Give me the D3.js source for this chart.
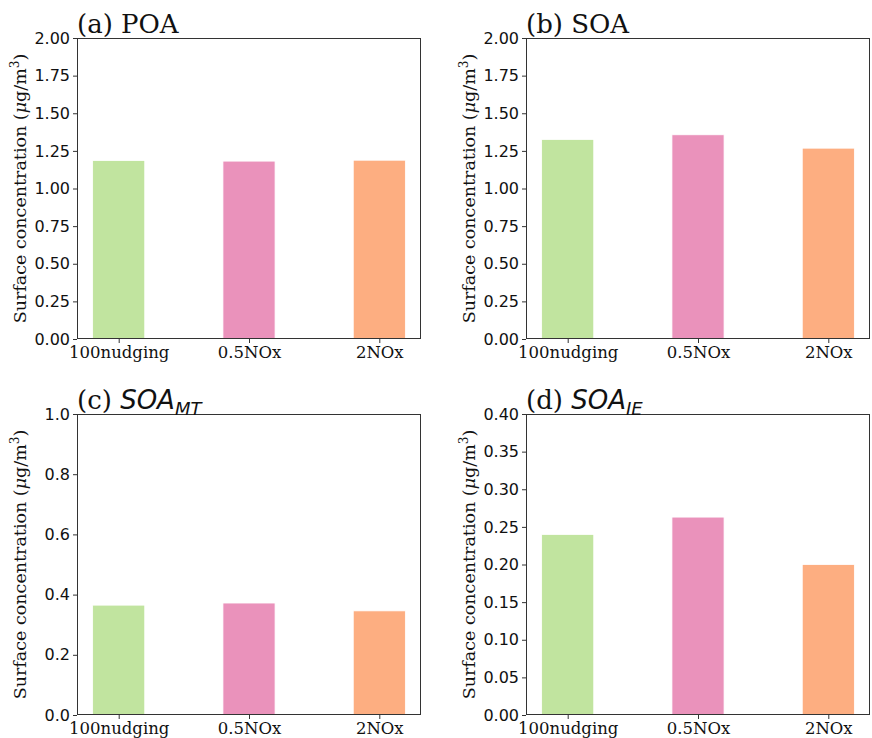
<!DOCTYPE html>
<html>
<head>
<meta charset="utf-8">
<script src="https://cdn.jsdelivr.net/npm/d3@7"></script>
<style>
  body { margin: 0; background: #fff; }
  svg { display: block; }
</style>
</head>
<body>
<svg id="chart" width="872" height="738"></svg>
<script>
// data
const categories = ["100nudging", "0.5NOx", "2NOx"];
const poaValues = [1.186, 1.182, 1.188];
const soaValues = [1.326, 1.357, 1.268];
const soaMTValues = [0.365, 0.372, 0.346];
const soaIEValues = [0.240, 0.263, 0.200];
const barColors = ["#c1e49f", "#ea92bb", "#fdae81"];

const poaTicks = [0, 0.25, 0.5, 0.75, 1.0, 1.25, 1.5, 1.75, 2.0];
const soaMTTicks = [0, 0.2, 0.4, 0.6, 0.8, 1.0];
const soaIETicks = [0, 0.05, 0.1, 0.15, 0.2, 0.25, 0.3, 0.35, 0.4];

const serif = "DejaVu Serif";
const sans = "DejaVu Sans";

const svg = d3.select("#chart");

const panels = [
    { left: 77, top: 38, label: "(a) ", name: "POA", sub: null, values: poaValues, ymax: 2, ticks: poaTicks, fmt: ".2f" },
    { left: 526, top: 38, label: "(b) ", name: "SOA", sub: null, values: soaValues, ymax: 2, ticks: poaTicks, fmt: ".2f" },
    { left: 77, top: 414, label: "(c) ", name: "SOA", sub: "MT", values: soaMTValues, ymax: 1, ticks: soaMTTicks, fmt: ".1f" },
    { left: 526, top: 414, label: "(d) ", name: "SOA", sub: "IE", values: soaIEValues, ymax: 0.4, ticks: soaIETicks, fmt: ".2f" }
];
const axW = 344;
const axH = 301;

panels.forEach(p => drawPanel(p));

function drawPanel(p) {
    const g = svg.append("g").attr("transform", `translate(${p.left},${p.top})`);

    // x: bars at 0,1,2 with width 0.4, matplotlib style margins
    const x = d3.scaleLinear().domain([-0.32, 2.32]).range([0, axW]);
    const y = d3.scaleLinear().domain([0, p.ymax]).range([axH, 0]);

    g.selectAll("rect.bar")
        .data(p.values)
        .join("rect")
        .attr("class", "bar")
        .attr("x", (d, i) => x(i - 0.2))
        .attr("width", (d, i) => x(i + 0.2) - x(i - 0.2))
        .attr("y", d => y(d))
        .attr("height", d => axH - y(d))
        .attr("fill", (d, i) => barColors[i])
        .attr("stroke", "#fff")
        .attr("stroke-width", 0.8);

    // y axis
    const yAxis = g.append("g")
        .call(d3.axisLeft(y).tickValues(p.ticks).tickFormat(d3.format(p.fmt)).tickSizeOuter(0).tickSize(4).tickPadding(3));
    yAxis.select(".domain").remove();
    yAxis.selectAll("line").attr("stroke", "#333");
    yAxis.selectAll("text")
        .attr("font-family", sans)
        .attr("font-size", 16)
        .attr("fill", "#111");

    // x axis
    const xAxis = g.append("g")
        .attr("transform", `translate(0,${axH})`)
        .call(d3.axisBottom(x).tickValues([0, 1, 2]).tickFormat(i => categories[i]).tickSizeOuter(0).tickSize(4).tickPadding(3));
    xAxis.select(".domain").remove();
    xAxis.selectAll("line").attr("stroke", "#333");
    xAxis.selectAll("text")
        .attr("font-family", serif)
        .attr("font-size", 16.5)
        .attr("fill", "#111");

    // frame
    g.append("rect")
        .attr("x", 0.5).attr("y", 0.5)
        .attr("width", axW - 1).attr("height", axH - 1)
        .attr("fill", "none")
        .attr("stroke", "#333")
        .attr("stroke-width", 1);

    // title
    const title = g.append("text")
        .attr("x", 0)
        .attr("y", -5)
        .attr("font-size", 26)
        .attr("fill", "#111");
    title.append("tspan").attr("font-family", serif).text(p.label);
    title.append("tspan")
        .attr("font-style", p.sub ? "italic" : "normal")
        .attr("font-family", p.sub ? sans : serif)
        .text(p.name);
    if (p.sub) {
        title.append("tspan")
            .attr("font-family", sans)
            .attr("font-style", "italic")
            .attr("font-size", 18)
            .attr("dy", 6)
            .text(p.sub);
    }

    // y label
    const yl = g.append("text")
        .attr("transform", `translate(-51,${axH / 2}) rotate(-90)`)
        .attr("text-anchor", "middle")
        .attr("font-family", serif)
        .attr("font-size", 17.5)
        .attr("fill", "#111");
    yl.append("tspan").text("Surface concentration (");
    yl.append("tspan").attr("font-style", "italic").text("μ");
    yl.append("tspan").text("g/m");
    yl.append("tspan").attr("font-size", 12).attr("dy", -7).text("3");
    yl.append("tspan").attr("dy", 7).text(")");
}
</script>
</body>
</html>
